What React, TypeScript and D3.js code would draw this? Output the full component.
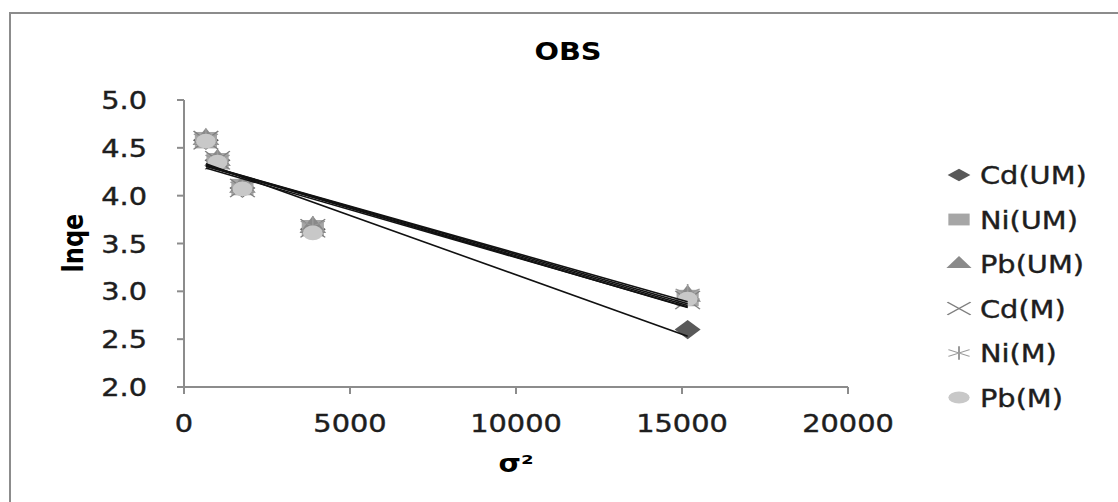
import React, { useEffect, useRef } from "react";
import * as d3 from "d3";

// sigma^2 values (x) shared by every series
const sigma2 = [660, 1010, 1760, 3880, 15170];

const seriesNames = ["Cd(UM)", "Ni(UM)", "Pb(UM)", "Cd(M)", "Ni(M)", "Pb(M)"];

// lnqe values
const cdUM = [4.58, 4.37, 4.08, 3.65, 2.6];
const niUM = [4.58, 4.36, 4.09, 3.66, 2.93];
const pbUM = [4.59, 4.37, 4.09, 3.67, 2.95];
const cdM = [4.58, 4.37, 4.08, 3.66, 2.91];
const niM = [4.59, 4.37, 4.09, 3.68, 2.97];
const pbM = [4.57, 4.35, 4.07, 3.61, 2.92];

const seriesValues = [cdUM, niUM, pbUM, cdM, niM, pbM];

const xTicks = [0, 5000, 10000, 15000, 20000];
const yTicks = [2.0, 2.5, 3.0, 3.5, 4.0, 4.5, 5.0];

const W = 1118;
const H = 502;
const SX = 1.2; // the picture is stretched sideways

// square-ish diamond, stretched later like the rest of the picture
const diamond = {
  draw(ctx: any, size: number) {
    const r = Math.sqrt(size / 2);
    ctx.moveTo(0, -r);
    ctx.lineTo(r, 0);
    ctx.lineTo(0, r);
    ctx.lineTo(-r, 0);
    ctx.closePath();
  },
};

// marker look per series (size in plot, size in legend)
const markerStyle = [
  { type: diamond, fill: "#595959", stroke: "none", size: 185, lsize: 80 },
  { type: d3.symbolSquare, fill: "#a6a6a6", stroke: "none", size: 270, lsize: 140 },
  { type: d3.symbolTriangle, fill: "#8a8a8a", stroke: "none", size: 170, lsize: 85 },
  { type: d3.symbolTimes, fill: "none", stroke: "#7f7f7f", size: 220, lsize: 110 },
  { type: d3.symbolAsterisk, fill: "none", stroke: "#9a9a9a", size: 300, lsize: 130 },
  { type: d3.symbolCircle, fill: "#c8c8c8", stroke: "none", size: 170, lsize: 110 },
];

function fit(xs: number[], ys: number[]) {
  const mx = d3.mean(xs) as number;
  const my = d3.mean(ys) as number;
  let sxy = 0;
  let sxx = 0;
  xs.forEach((x, i) => {
    sxy += (x - mx) * (ys[i] - my);
    sxx += (x - mx) * (x - mx);
  });
  const b = sxy / sxx;
  return { a: my - b * mx, b };
}

function ObsChart() {
  const ref = useRef<SVGSVGElement>(null);

  useEffect(() => {
    const svg = d3.select(ref.current);
    svg.selectAll("*").remove();

    const x = d3.scaleLinear().domain([0, 20000]).range([184, 848]);
    const y = d3.scaleLinear().domain([2, 5]).range([387, 100]);
    const font = "'DejaVu Sans', Verdana, sans-serif";
    const axisColor = "#8c8c8c";

    // outer chart border
    svg
      .append("rect")
      .attr("x", 10)
      .attr("y", 13)
      .attr("width", W + 20)
      .attr("height", H + 20)
      .attr("fill", "white")
      .attr("stroke", axisColor)
      .attr("stroke-width", 2);

    const txt = (tx: number, ty: number, s: string, anchor: string, bold = false, rot = 0) =>
      svg
        .append("text")
        .attr("transform", `translate(${tx},${ty}) scale(${SX},1)` + (rot ? ` rotate(${rot})` : ""))
        .attr("text-anchor", anchor)
        .attr("font-family", font)
        .attr("font-size", 24)
        .attr("font-weight", bold ? "bold" : "normal")
        .attr("fill", "#1e1e1e")
        .attr("stroke", bold ? "none" : "#1e1e1e")
        .attr("stroke-width", bold ? 0 : 0.4)
        .text(s);

    // title
    txt(568, 60, "OBS", "middle", true).attr("fill", "#000");

    // y axis
    svg
      .append("line")
      .attr("x1", x(0))
      .attr("x2", x(0))
      .attr("y1", y(5))
      .attr("y2", y(2) + 7)
      .attr("stroke", axisColor)
      .attr("stroke-width", 2);
    yTicks.forEach((t) => {
      svg
        .append("line")
        .attr("x1", x(0) - 7)
        .attr("x2", x(0))
        .attr("y1", y(t))
        .attr("y2", y(t))
        .attr("stroke", axisColor)
        .attr("stroke-width", 2);
      txt(147, y(t) + 9, d3.format(".1f")(t), "end");
    });

    // x axis
    svg
      .append("line")
      .attr("x1", x(0))
      .attr("x2", x(20000))
      .attr("y1", y(2))
      .attr("y2", y(2))
      .attr("stroke", axisColor)
      .attr("stroke-width", 2);
    xTicks.forEach((t) => {
      svg
        .append("line")
        .attr("x1", x(t))
        .attr("x2", x(t))
        .attr("y1", y(2))
        .attr("y2", y(2) + 7)
        .attr("stroke", axisColor)
        .attr("stroke-width", 2);
      txt(x(t), 432, String(t), "middle");
    });

    // axis titles
    txt(516, 472, "σ²", "middle", true).attr("fill", "#000");
    txt(83, 243, "lnqe", "middle", true, -90).attr("fill", "#000");

    // markers
    seriesValues.forEach((vals, si) => {
      const st = markerStyle[si];
      svg
        .append("g")
        .selectAll("path")
        .data(vals)
        .join("path")
        .attr("transform", (d, i) => `translate(${x(sigma2[i])},${y(d)}) scale(1.35,1)`)
        .attr("d", d3.symbol().type(st.type as any).size(st.size)() as string)
        .attr("fill", st.fill)
        .attr("stroke", st.stroke)
        .attr("stroke-width", 1.2);
    });

    // linear trend lines
    seriesValues.forEach((vals) => {
      const f = fit(sigma2, vals);
      const x0 = d3.min(sigma2) as number;
      const x1 = d3.max(sigma2) as number;
      svg
        .append("line")
        .attr("x1", x(x0))
        .attr("y1", y(f.a + f.b * x0))
        .attr("x2", x(x1))
        .attr("y2", y(f.a + f.b * x1))
        .attr("stroke", "#111")
        .attr("stroke-width", 1.6);
    });

    // legend
    seriesNames.forEach((name, i) => {
      const cy = 175 + i * 44.5;
      const st = markerStyle[i];
      svg
        .append("path")
        .attr("transform", `translate(959,${cy}) scale(1.8,1)`)
        .attr("d", d3.symbol().type(st.type as any).size(st.lsize)() as string)
        .attr("fill", st.fill)
        .attr("stroke", st.stroke)
        .attr("stroke-width", 1.1);
      txt(980, cy + 9, name, "start");
    });
  }, []);

  return <svg ref={ref} width={W} height={H} style={{ position: "absolute", left: 0, top: 0 }} />;
}

export default function App() {
  return <ObsChart />;
}
